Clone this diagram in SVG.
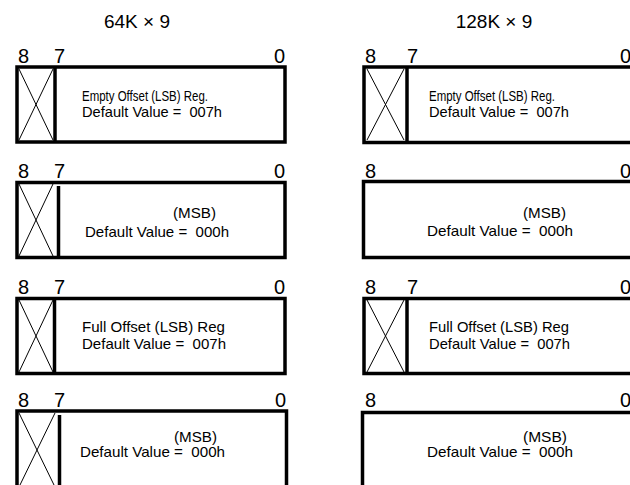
<svg xmlns="http://www.w3.org/2000/svg" width="630" height="485" viewBox="0 0 630 485">
<style>
.box{fill:none;stroke:#000;stroke-width:3.5}
.dv{stroke:#000;stroke-width:3.5}
.x{stroke:#000;stroke-width:1}
text{font-family:"Liberation Sans",Arial,sans-serif;fill:#000}
.ttl{font-size:19px;text-anchor:middle}
.bit{font-size:20px}
.end{text-anchor:end}
.t{font-size:14.5px}
</style>
<rect width="630" height="485" fill="#fff"/>
<text class="ttl" x="137" y="28">64K × 9</text>
<text class="ttl" x="494" y="28">128K × 9</text>

<g id="reg64-1">
<text class="bit" x="18" y="63">8</text><text class="bit" x="54" y="63">7</text><text class="bit end" x="285" y="63">0</text>
<rect class="box" x="17" y="67" width="268" height="75"/>
<line class="x" x1="19" y1="69" x2="53" y2="140"/><line class="x" x1="53" y1="69" x2="19" y2="140"/>
<line class="dv" x1="55" y1="67" x2="55" y2="142"/>
<text class="t" x="82" y="101" textLength="126" lengthAdjust="spacingAndGlyphs">Empty Offset (LSB) Reg.</text>
<text class="t" x="82" y="117" xml:space="preserve" textLength="140" lengthAdjust="spacingAndGlyphs">Default Value =  007h</text>
</g>

<g id="reg64-2">
<text class="bit" x="18" y="178">8</text><text class="bit" x="54" y="178">7</text><text class="bit end" x="285" y="178">0</text>
<rect class="box" x="17" y="182.5" width="268" height="75"/>
<line class="x" x1="19" y1="184" x2="53" y2="256"/><line class="x" x1="53" y1="184" x2="19" y2="256"/>
<line class="dv" x1="58.5" y1="186" x2="58.5" y2="257.5"/>
<text class="t" x="173" y="218" textLength="43" lengthAdjust="spacingAndGlyphs">(MSB)</text>
<text class="t" x="85" y="237" xml:space="preserve" textLength="144" lengthAdjust="spacingAndGlyphs">Default Value =  000h</text>
</g>

<g id="reg64-3">
<text class="bit" x="18" y="294">8</text><text class="bit" x="54" y="294">7</text><text class="bit end" x="285" y="294">0</text>
<rect class="box" x="17" y="298.5" width="268" height="75"/>
<line class="x" x1="19" y1="300" x2="53" y2="372"/><line class="x" x1="53" y1="300" x2="19" y2="372"/>
<line class="dv" x1="54.5" y1="299" x2="54.5" y2="373.5"/>
<text class="t" x="82" y="332" textLength="143" lengthAdjust="spacingAndGlyphs">Full Offset (LSB) Reg</text>
<text class="t" x="82" y="349" xml:space="preserve" textLength="144" lengthAdjust="spacingAndGlyphs">Default Value =  007h</text>
</g>

<g id="reg64-4">
<text class="bit" x="18" y="407">8</text><text class="bit" x="54" y="407">7</text><text class="bit end" x="286" y="407">0</text>
<rect class="box" x="17" y="411" width="269.5" height="100"/>
<line class="x" x1="19" y1="413" x2="55" y2="487"/><line class="x" x1="55" y1="413" x2="19" y2="487"/>
<line class="dv" x1="59.5" y1="415" x2="59.5" y2="490"/>
<text class="t" x="174" y="442" textLength="43" lengthAdjust="spacingAndGlyphs">(MSB)</text>
<text class="t" x="80" y="457" xml:space="preserve" textLength="145" lengthAdjust="spacingAndGlyphs">Default Value =  000h</text>
</g>

<g id="reg128-1">
<text class="bit" x="365" y="63">8</text><text class="bit" x="407" y="63">7</text><text class="bit end" x="631" y="63">0</text>
<rect class="box" x="364" y="67" width="280" height="75.5"/>
<line class="x" x1="367" y1="69" x2="404" y2="140"/><line class="x" x1="404" y1="69" x2="367" y2="140"/>
<line class="dv" x1="407" y1="67" x2="407" y2="142.5"/>
<text class="t" x="429" y="101" textLength="126" lengthAdjust="spacingAndGlyphs">Empty Offset (LSB) Reg.</text>
<text class="t" x="429" y="117" xml:space="preserve" textLength="140" lengthAdjust="spacingAndGlyphs">Default Value =  007h</text>
</g>

<g id="reg128-2">
<text class="bit" x="365" y="178">8</text><text class="bit end" x="631" y="178">0</text>
<rect class="box" x="363.5" y="181.5" width="280" height="76"/>
<text class="t" x="523" y="218" textLength="43" lengthAdjust="spacingAndGlyphs">(MSB)</text>
<text class="t" x="427" y="236" xml:space="preserve" textLength="146" lengthAdjust="spacingAndGlyphs">Default Value =  000h</text>
</g>

<g id="reg128-3">
<text class="bit" x="365" y="294">8</text><text class="bit" x="407" y="294">7</text><text class="bit end" x="631" y="294">0</text>
<rect class="box" x="364" y="298.5" width="280" height="75"/>
<line class="x" x1="367" y1="300" x2="404" y2="372"/><line class="x" x1="404" y1="300" x2="367" y2="372"/>
<line class="dv" x1="407" y1="298.5" x2="407" y2="373.5"/>
<text class="t" x="429" y="332" textLength="140" lengthAdjust="spacingAndGlyphs">Full Offset (LSB) Reg</text>
<text class="t" x="429" y="349" xml:space="preserve" textLength="141" lengthAdjust="spacingAndGlyphs">Default Value =  007h</text>
</g>

<g id="reg128-4">
<text class="bit" x="365" y="407">8</text><text class="bit end" x="631" y="407">0</text>
<rect class="box" x="362.5" y="412.5" width="280" height="100"/>
<text class="t" x="523" y="442" textLength="44" lengthAdjust="spacingAndGlyphs">(MSB)</text>
<text class="t" x="427" y="457" xml:space="preserve" textLength="146" lengthAdjust="spacingAndGlyphs">Default Value =  000h</text>
</g>

<g id="connectors"/>
</svg>
